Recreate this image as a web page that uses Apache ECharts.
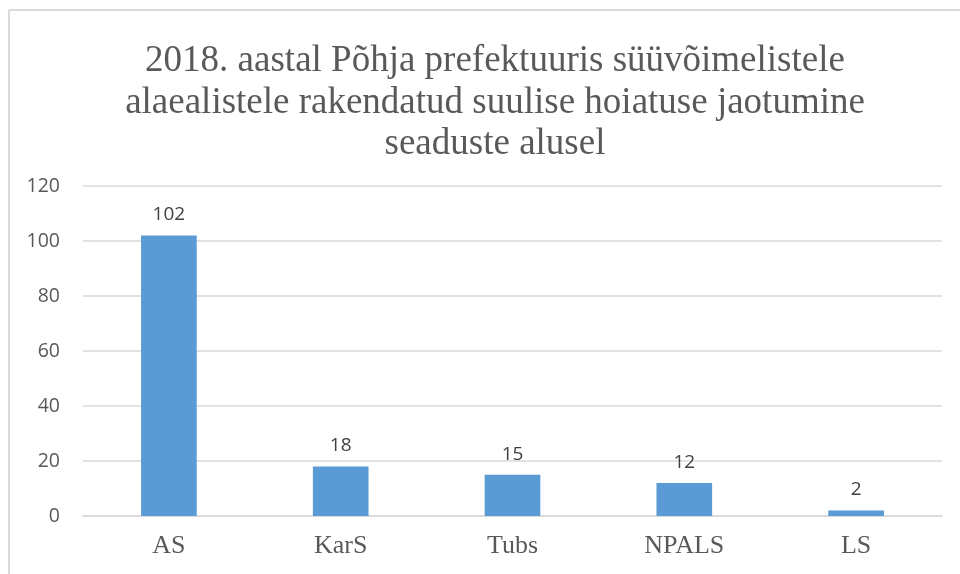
<!DOCTYPE html>
<html>
<head>
<meta charset="utf-8">
<script src="https://cdn.jsdelivr.net/npm/echarts@6/dist/echarts.min.js"></script>
<style>
  html, body { margin: 0; padding: 0; background: #fff; }
  #chart { width: 960px; height: 574px; }
</style>
</head>
<body>
<div id="chart"></div>
<script>
const titleLines = [
  '2018. aastal Põhja prefektuuris süüvõimelistele',
  'alaealistele rakendatud suulise hoiatuse jaotumine',
  'seaduste alusel'
];
const categories = ['AS', 'KarS', 'Tubs', 'NPALS', 'LS'];
const values = [102, 18, 15, 12, 2];

const chart = echarts.init(document.getElementById('chart'), null, { renderer: 'canvas' });

chart.setOption({
  animation: false,
  title: {
    text: titleLines.join('\n'),
    left: 490,
    textAlign: 'center',
    top: 36,
    textStyle: {
      fontFamily: 'Liberation Serif',
      fontWeight: 'normal',
      fontSize: 37,
      lineHeight: 41.5,
      color: '#595959'
    }
  },
  // chart frame: only top and left edges show in the picture
  graphic: [
    { type: 'line', shape: { x1: 9, y1: 10, x2: 960, y2: 10 }, style: { stroke: '#d9d9d9', lineWidth: 2 } },
    { type: 'line', shape: { x1: 9, y1: 10, x2: 9, y2: 574 }, style: { stroke: '#d9d9d9', lineWidth: 2 } }
  ],
  grid: { left: 83, right: 18, top: 186, bottom: 58, containLabel: false },
  xAxis: {
    type: 'category',
    data: categories,
    axisLine: { show: true, lineStyle: { color: '#d9d9d9', width: 1.5 } },
    axisTick: { show: false },
    axisLabel: {
      margin: 17,
      fontFamily: 'Liberation Serif',
      fontSize: 26,
      lineHeight: 26,
      color: '#595959'
    }
  },
  yAxis: {
    type: 'value',
    min: 0,
    max: 120,
    interval: 20,
    axisLine: { show: false },
    axisTick: { show: false },
    splitLine: { lineStyle: { color: '#d9d9d9', width: 1.5 } },
    axisLabel: {
      margin: 23,
      fontFamily: 'Open Sans',
      fontSize: 19.5,
      color: '#595959'
    }
  },
  series: [{
    type: 'bar',
    data: values,
    barWidth: '32.4%',
    itemStyle: { color: '#5b9bd5' },
    label: {
      show: true,
      position: 'top',
      distance: 11,
      fontFamily: 'Open Sans',
      fontSize: 19,
      lineHeight: 19,
      color: '#404040'
    }
  }]
});
</script>
</body>
</html>
